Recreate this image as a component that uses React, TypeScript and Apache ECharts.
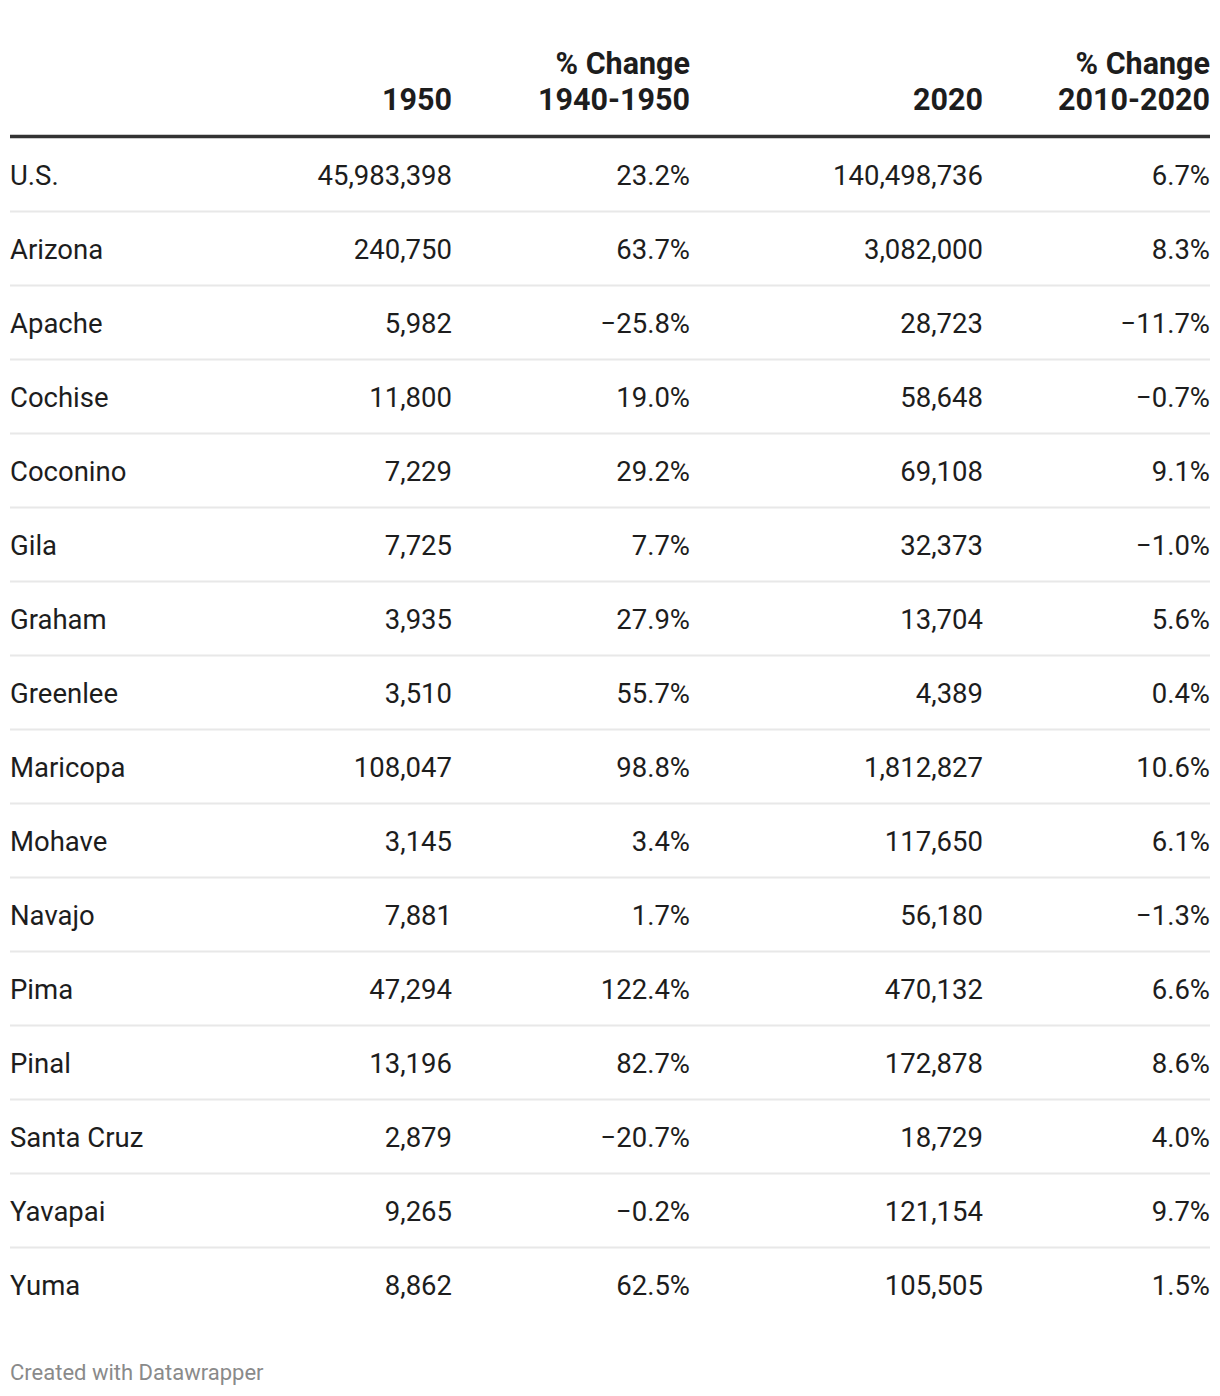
import React, { useEffect, useRef } from "react";
import * as echarts from "echarts";

const headerLines: string[][] = [["1950"], ["% Change", "1940-1950"], ["2020"], ["% Change", "2010-2020"]];
const places = ["U.S.", "Arizona", "Apache", "Cochise", "Coconino", "Gila", "Graham", "Greenlee", "Maricopa", "Mohave", "Navajo", "Pima", "Pinal", "Santa Cruz", "Yavapai", "Yuma"];
const pop1950 = ["45,983,398", "240,750", "5,982", "11,800", "7,229", "7,725", "3,935", "3,510", "108,047", "3,145", "7,881", "47,294", "13,196", "2,879", "9,265", "8,862"];
const chg1940_1950 = ["23.2%", "63.7%", "−25.8%", "19.0%", "29.2%", "7.7%", "27.9%", "55.7%", "98.8%", "3.4%", "1.7%", "122.4%", "82.7%", "−20.7%", "−0.2%", "62.5%"];
const pop2020 = ["140,498,736", "3,082,000", "28,723", "58,648", "69,108", "32,373", "13,704", "4,389", "1,812,827", "117,650", "56,180", "470,132", "172,878", "18,729", "121,154", "105,505"];
const chg2010_2020 = ["6.7%", "8.3%", "−11.7%", "−0.7%", "9.1%", "−1.0%", "5.6%", "0.4%", "10.6%", "6.1%", "−1.3%", "6.6%", "8.6%", "4.0%", "9.7%", "1.5%"];
const footer = "Created with Datawrapper";

export default function App() {
  const ref = useRef<HTMLDivElement>(null);
  useEffect(() => {
    if (!ref.current) return;
    const chart = echarts.init(ref.current, null, { renderer: "svg" });
    const FONT = "Roboto, 'Noto Sans', sans-serif";
    const left = 10;
    const right = 1210;
    const colRight = [452, 690, 983, 1210];
    const rowTop = 175;
    const rowH = 74;
    const bodySize = 27.5;
    const headSize = 30.5;
    const els: any[] = [];
    headerLines.forEach((lines, c) => {
      lines.forEach((t, k) => {
        const y = 99 - (lines.length - 1 - k) * 36;
        els.push({
          type: "text",
          x: colRight[c],
          y,
          style: { text: t, fill: "#1d1d1d", font: `bold ${headSize}px ${FONT}`, textAlign: "right", textVerticalAlign: "middle" },
        });
      });
    });
    els.push({ type: "line", shape: { x1: left, y1: 136.5, x2: right, y2: 136.5 }, style: { stroke: "#333333", lineWidth: 3.5 } });
    const cols = [pop1950, chg1940_1950, pop2020, chg2010_2020];
    places.forEach((p, i) => {
      const y = rowTop + i * rowH;
      els.push({ type: "text", x: left, y, style: { text: p, fill: "#1d1d1d", font: `${bodySize}px ${FONT}`, textAlign: "left", textVerticalAlign: "middle" } });
      cols.forEach((arr, c) => {
        els.push({ type: "text", x: colRight[c], y, style: { text: arr[i], fill: "#1d1d1d", font: `${bodySize}px ${FONT}`, textAlign: "right", textVerticalAlign: "middle" } });
      });
      if (i < places.length - 1) {
        els.push({ type: "line", shape: { x1: left, y1: y + 36.5, x2: right, y2: y + 36.5 }, style: { stroke: "#e8e8e8", lineWidth: 2 } });
      }
    });
    els.push({ type: "text", x: left, y: 1372, style: { text: footer, fill: "#8a8a8a", font: `22px ${FONT}`, textAlign: "left", textVerticalAlign: "middle" } });
    chart.setOption({ animation: false, backgroundColor: "#ffffff", graphic: { elements: els } });
    return () => chart.dispose();
  }, []);
  return <div ref={ref} style={{ position: "absolute", left: 0, top: 0, width: 1220, height: 1396 }} />;
}
